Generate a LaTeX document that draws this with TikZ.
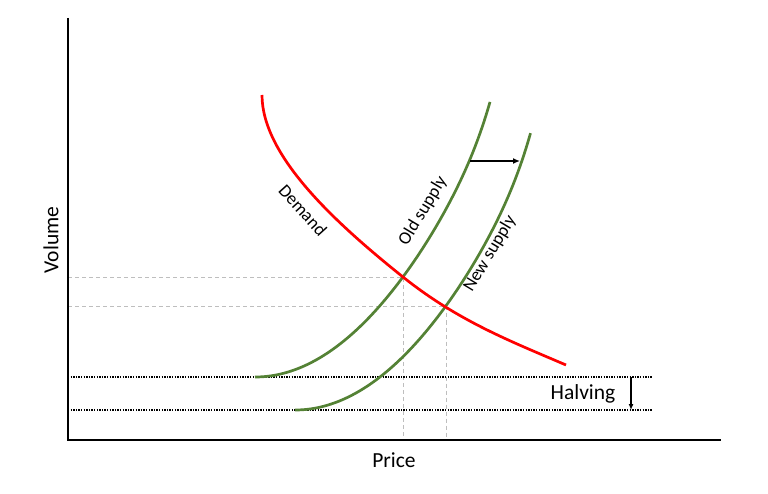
\documentclass[tikz,border=0pt]{standalone}
\usepackage{fontspec}
\setmainfont{Carlito}
\usetikzlibrary{arrows.meta}
\definecolor{supgreen}{RGB}{84,130,53}
\definecolor{guidegray}{RGB}{190,190,190}
\tikzset{
  axisline/.style={line width=1.3pt, black},
  demandline/.style={line width=2.7pt, red},
  supplyline/.style={line width=2.7pt, supgreen},
  guideline/.style={line width=0.9pt, guidegray, dash pattern=on 4pt off 3pt},
  levelline/.style={line width=1.3pt, black, dash pattern=on 1.3pt off 1.3pt},
  shiftarrow/.style={line width=1.3pt, black, -{Latex[length=7pt,width=6pt]}},
  curvelbl/.style={font=\fontsize{18}{21}\selectfont, inner sep=0pt},
  axislbl/.style={font=\fontsize{21.5}{25}\selectfont, inner sep=0pt},
}
\begin{document}
\begin{tikzpicture}[x=1pt,y=-1pt]
\useasboundingbox (0,0) rectangle (768,494);
% axes
\coordinate (o) at (68,440);
\coordinate (yt) at (68,18);
\coordinate (xe) at (721,440);
% guide lines
\coordinate (eqold) at (403,277);
\coordinate (eqnew) at (446,306.5);
\coordinate (yold) at (68,277);
\coordinate (ynew) at (68,306.5);
\coordinate (xold) at (403,440);
\coordinate (xnew) at (446,440);
\draw[guideline] (yold) -- (eqold) -- (xold);
\draw[guideline] (ynew) -- (eqnew) -- (xnew);
% level lines
\coordinate (l1a) at (68,377);
\coordinate (l1b) at (652,377);
\coordinate (l2a) at (68,410);
\coordinate (l2b) at (652,410);
\draw[levelline] (l1a) -- (l1b);
\draw[levelline] (l2a) -- (l2b);
\draw[axisline] (yt) -- (o) -- (xe);
% supply curves
\draw[supplyline] plot[domain=0:235, samples=120, smooth] ({255+\x},{377-45.7*(\x/100)^2*(1+0.09*(\x/235)^12)});
\draw[supplyline] plot[domain=0:235.5, samples=120, smooth] ({295+\x},{410-45.7*(\x/100)^2*(1+0.09*(\x/235)^12)});
% demand
\coordinate (d0) at (262,95);
\coordinate (d1) at (566,365);
\draw[demandline] (d0) .. controls (262,155) and (333,221) .. (eqold)
  .. controls (458,321) and (511,341.4) .. (d1);
% shift arrow
\coordinate (sa) at (470,161);
\coordinate (sb) at (520,161);
\draw[shiftarrow] (sa) -- (sb);
% halving arrow
\coordinate (h1) at (631,377);
\coordinate (h2) at (631,410);
\draw[shiftarrow, -{Latex[length=6pt,width=5pt]}] (h1) -- (h2);
% labels
\node[curvelbl, rotate=-48] (dem) at (303,210) {Demand};
\node[curvelbl, rotate=59] (old) at (423,211) {Old supply};
\node[curvelbl, rotate=59] (new) at (490,254) {New supply};
\node[axislbl] (halv) at (583,394) {Halving};
\node[axislbl, rotate=90] (vol) at (51,240) {Volume};
\node[axislbl] (price) at (394,460) {Price};
\end{tikzpicture}
\end{document}
